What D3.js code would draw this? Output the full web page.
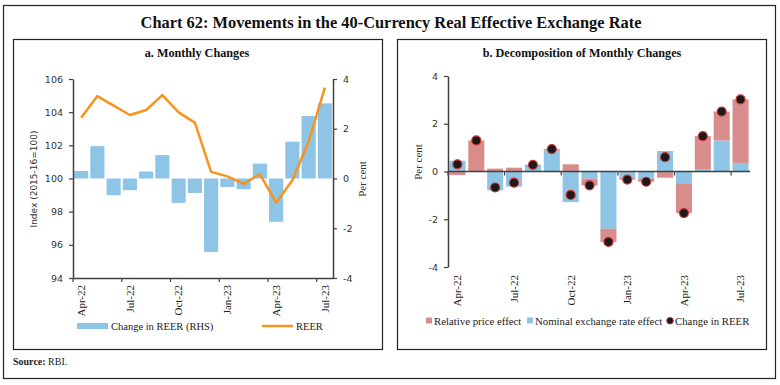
<!DOCTYPE html>
<html><head><meta charset="utf-8">
<script src="https://cdn.jsdelivr.net/npm/d3@7"></script>
<style>body{margin:0;background:#fff} svg{display:block}</style>
</head><body>
<svg id="c" width="780" height="385"></svg>
<script>
// ---- data ----
const months = ["Apr-22","May-22","Jun-22","Jul-22","Aug-22","Sep-22","Oct-22","Nov-22","Dec-22","Jan-23","Feb-23","Mar-23","Apr-23","May-23","Jun-23","Jul-23"];
const reer = [103.67,104.97,104.39,103.83,104.13,105.03,103.99,103.37,100.40,100.13,99.67,100.27,98.54,99.90,102.22,105.48];
const changeReer = [0.30,1.30,-0.67,-0.47,0.28,0.94,-0.98,-0.58,-2.95,-0.34,-0.43,0.60,-1.74,1.48,2.51,3.02];
const relativePrice = [-0.15,1.28,0.12,0.16,0.05,0.06,0.30,-0.28,-0.55,-0.10,-0.12,-0.26,-1.25,1.40,1.21,2.66];
const nominalEffect = [0.45,0.02,-0.79,-0.63,0.23,0.88,-1.28,-0.30,-2.40,-0.24,-0.31,0.86,-0.49,0.08,1.30,0.36];
const leftTicks = [94,96,98,100,102,104,106];
const rightTicks = [-4,-2,0,2,4];
const bTicks = [-4,-2,0,2,4];
const labelMonths = ["Apr-22","Jul-22","Oct-22","Jan-23","Apr-23","Jul-23"];

// ---- styles ----
const svg = d3.select("#c");
const serif = "'Liberation Serif','Times New Roman',serif";
const sans = "'DejaVu Sans',Verdana,sans-serif";
const axisCol = "#404040";
const blue = "#8EC4E6", pink = "#D98C8C", orange = "#F7941D";
const fmt = d => String(d);

// frames
svg.append("rect").attr("x",3.5).attr("y",5.5).attr("width",772).attr("height",373)
  .attr("fill","none").attr("stroke","#222").attr("stroke-width",1.2);
[[13.5,39.5],[397.5,39.5]].forEach(([x,y])=>{
  svg.append("rect").attr("x",x).attr("y",y).attr("width",369).attr("height",310)
    .attr("fill","none").attr("stroke","#222").attr("stroke-width",1.2);
});
svg.append("text").attr("x",391).attr("y",28).attr("text-anchor","middle")
  .attr("font-family",serif).attr("font-weight","bold").attr("font-size",16.4).attr("fill","#111")
  .text("Chart 62: Movements in the 40-Currency Real Effective Exchange Rate");

function styleAxis(g, fs){
  g.select(".domain").attr("stroke",axisCol).attr("stroke-width",1.5);
  g.selectAll(".tick line").attr("stroke",axisCol).attr("stroke-width",1.2);
  g.selectAll(".tick text").attr("font-family",sans).attr("font-size",fs).attr("fill","#333");
}

// ================= Panel a =================
{
  const x0 = 73, x1 = 333, yTop = 79, yBot = 278;
  const x = d3.scaleBand().domain(months).range([x0,x1]).paddingInner(0.13).paddingOuter(0.065);
  const yL = d3.scaleLinear().domain([94,106]).range([yBot,yTop]);
  const yR = d3.scaleLinear().domain([-4,4]).range([yBot,yTop]);
  const g = svg.append("g");

  g.append("text").attr("x",197).attr("y",57).attr("text-anchor","middle")
    .attr("font-family",serif).attr("font-weight","bold").attr("font-size",12.2).attr("fill","#111")
    .text("a. Monthly Changes");

  g.selectAll("rect.bar").data(months).join("rect").attr("class","bar")
    .attr("x",d=>x(d)).attr("width",x.bandwidth())
    .attr("y",(d,i)=>yR(Math.max(0,changeReer[i])))
    .attr("height",(d,i)=>Math.abs(yR(changeReer[i])-yR(0)))
    .attr("fill",blue);

  const line = d3.line().x((d,i)=>x(months[i])+x.bandwidth()/2).y(d=>yL(d));
  g.append("path").datum(reer).attr("d",line).attr("fill","none")
    .attr("stroke",orange).attr("stroke-width",2.5).attr("stroke-linejoin","round");

  const la = g.append("g").attr("transform",`translate(${x0},0)`)
    .call(d3.axisLeft(yL).tickValues(leftTicks).tickFormat(fmt).tickSize(4).tickPadding(6).tickSizeOuter(0));
  styleAxis(la,9.5);
  const ra = g.append("g").attr("transform",`translate(${x1},0)`)
    .call(d3.axisRight(yR).tickValues(rightTicks).tickFormat(fmt).tickSize(4).tickPadding(6).tickSizeOuter(0));
  styleAxis(ra,9.5);

  const ba = g.append("g").attr("transform",`translate(0,${yBot})`)
    .call(d3.axisBottom(x).tickValues(labelMonths).tickSize(0).tickSizeOuter(0));
  ba.select(".domain").attr("stroke",axisCol).attr("stroke-width",1.5);
  ba.selectAll(".tick text").attr("font-family",serif).attr("font-size",11).attr("fill","#222")
    .attr("transform","rotate(-90)").attr("x",-7).attr("y",0).attr("dy","0.35em").attr("text-anchor","end");
  const bIdx = [0,3,6,9,12,15];
  g.selectAll("line.xt").data(bIdx).join("line").attr("class","xt")
    .attr("x1",i=>x0 + i*x.step()).attr("x2",i=>x0 + i*x.step())
    .attr("y1",yBot).attr("y2",yBot+4).attr("stroke",axisCol).attr("stroke-width",1.2);

  g.append("text").attr("transform",`translate(37,179) rotate(-90)`).attr("text-anchor","middle")
    .attr("font-family",sans).attr("font-size",9).attr("fill","#333").text("Index (2015-16=100)");
  g.append("text").attr("transform",`translate(366,179) rotate(-90)`).attr("text-anchor","middle")
    .attr("font-family",serif).attr("font-size",11).attr("fill","#333").text("Per cent");

  // legend
  g.append("rect").attr("x",77).attr("y",323).attr("width",31).attr("height",6).attr("fill",blue);
  g.append("text").attr("x",111).attr("y",329.5).attr("font-family",serif).attr("font-size",10.5)
    .attr("fill","#222").text("Change in REER (RHS)");
  g.append("line").attr("x1",262).attr("x2",293).attr("y1",326).attr("y2",326)
    .attr("stroke",orange).attr("stroke-width",2.5);
  g.append("text").attr("x",296).attr("y",329.5).attr("font-family",serif).attr("font-size",10.5)
    .attr("fill","#222").text("REER");
}

// ================= Panel b =================
{
  const x0 = 448, x1 = 750, yTop = 76, yBot = 267;
  const x = d3.scaleBand().domain(months).range([x0,x1]).paddingInner(0.15).paddingOuter(0.075);
  const y = d3.scaleLinear().domain([-4,4]).range([yBot,yTop]);
  const g = svg.append("g");

  g.append("text").attr("x",582).attr("y",57).attr("text-anchor","middle")
    .attr("font-family",serif).attr("font-weight","bold").attr("font-size",12.2).attr("fill","#111")
    .text("b. Decomposition of Monthly Changes");

  const rows = months.map((m,i)=>({month:m, nominal:nominalEffect[i], relative:relativePrice[i]}));
  const stack = d3.stack().keys(["nominal","relative"]).offset(d3.stackOffsetDiverging)(rows);
  const col = {nominal:blue, relative:pink};
  stack.forEach(s=>{
    g.selectAll(null).data(s).join("rect")
      .attr("x",d=>x(d.data.month)).attr("width",x.bandwidth())
      .attr("y",d=>y(Math.max(d[0],d[1])))
      .attr("height",d=>Math.abs(y(d[0])-y(d[1])))
      .attr("fill",col[s.key]);
  });

  const la = g.append("g").attr("transform",`translate(${x0},0)`)
    .call(d3.axisLeft(y).tickValues(bTicks).tickFormat(fmt).tickSize(4).tickPadding(6).tickSizeOuter(0));
  styleAxis(la,9.5);

  g.append("line").attr("x1",x0).attr("x2",x1).attr("y1",y(0)).attr("y2",y(0))
    .attr("stroke",axisCol).attr("stroke-width",1.5);
  const bIdx = [0,3,6,9,12,15];
  g.selectAll("line.xt").data(bIdx).join("line").attr("class","xt")
    .attr("x1",i=>x0 + i*x.step()).attr("x2",i=>x0 + i*x.step())
    .attr("y1",y(0)).attr("y2",y(0)+4).attr("stroke",axisCol).attr("stroke-width",1.2);

  const ba = g.append("g").attr("transform",`translate(0,275)`)
    .call(d3.axisBottom(x).tickValues(labelMonths).tickSize(0).tickSizeOuter(0));
  ba.select(".domain").remove();
  ba.selectAll(".tick text").attr("font-family",serif).attr("font-size",11).attr("fill","#222")
    .attr("transform","rotate(-90)").attr("x",0).attr("y",0).attr("dy","0.35em").attr("text-anchor","end");

  g.selectAll("circle.dot").data(changeReer).join("circle").attr("class","dot")
    .attr("cx",(d,i)=>x(months[i])+x.bandwidth()/2).attr("cy",d=>y(d))
    .attr("r",4.5).attr("fill","#1a1a1a").attr("stroke","#d0302f").attr("stroke-width",1.2);

  g.append("text").attr("transform",`translate(422,162) rotate(-90)`).attr("text-anchor","middle")
    .attr("font-family",serif).attr("font-size",11).attr("fill","#333").text("Per cent");

  // legend
  g.append("rect").attr("x",426).attr("y",317.5).attr("width",6).attr("height",6).attr("fill",pink);
  g.append("text").attr("x",434).attr("y",325).attr("font-family",serif).attr("font-size",10.8)
    .attr("fill","#222").text("Relative price effect");
  g.append("rect").attr("x",527).attr("y",317.5).attr("width",6).attr("height",6).attr("fill",blue);
  g.append("text").attr("x",535).attr("y",325).attr("font-family",serif).attr("font-size",10.8)
    .attr("fill","#222").text("Nominal exchange rate effect");
  g.append("circle").attr("cx",670).attr("cy",320.7).attr("r",3.3)
    .attr("fill","#1a1a1a").attr("stroke","#d0302f").attr("stroke-width",1);
  g.append("text").attr("x",675).attr("y",325).attr("font-family",serif).attr("font-size",10.8)
    .attr("fill","#222").text("Change in REER");
}

// source
const src = svg.append("text").attr("x",13).attr("y",365).attr("font-family",serif).attr("font-size",10).attr("fill","#222");
src.append("tspan").attr("font-weight","bold").text("Source: ");
src.append("tspan").text("RBI.");
</script>
</body></html>
